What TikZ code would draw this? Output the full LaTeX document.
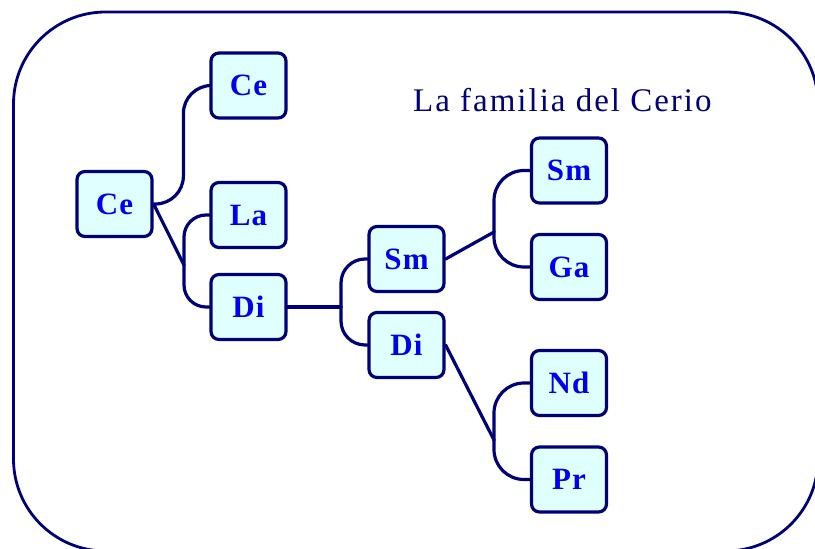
\documentclass[tikz,border=0pt]{standalone}
\usepackage{fontspec}
\setmainfont{Liberation Serif}
\newfontfamily\titlefont[LetterSpace=6]{Liberation Serif}
\newfontfamily\elemfont[LetterSpace=4]{Liberation Serif}
\definecolor{cerioline}{RGB}{0,0,120}
\definecolor{ceriofill}{RGB}{224,255,255}
\definecolor{ceriotext}{RGB}{0,0,240}

\begin{document}
\begin{tikzpicture}[x=1pt, y=-1pt,
    elem/.style={draw=cerioline, fill=ceriofill, line width=3.2pt, rounded corners=8pt,
        minimum width=75pt, minimum height=65pt, inner sep=0pt,
        font=\elemfont\fontsize{31}{33}\selectfont\bfseries, text=ceriotext},
    link/.style={draw=cerioline, line width=3.2pt, line cap=round}]
    \useasboundingbox (0,0) rectangle (815,549);
    \clip (0,0) rectangle (815,549);

    % Outer frame
    \draw[cerioline, line width=2.8pt, rounded corners=92pt] (13.5,12) rectangle (818,551);

    % Title
    \node[anchor=base west, inner sep=0pt, text=cerioline,
        font=\titlefont\fontsize{33}{35}\selectfont] (title) at (413,111) {La familia del Cerio};

    % Elements
    \foreach \name/\x/\y/\sym in {ce1/114.5/204/Ce, ce2/248.5/85.5/Ce, la/248.5/215/La,
        di1/248.5/307/Di, sm2/406.5/259/Sm, di2/406.5/345/Di, sm3/569/170.5/Sm,
        ga/569/267/Ga, nd/569/383/Nd, pr/569/479.5/Pr} {
        \node[elem] (\name) at (\x,\y) {\sym};
    }

    % Branch points
    \coordinate (j1) at (184,265);
    \coordinate (j2) at (341,307);
    \coordinate (j3) at (494,232);
    \coordinate (j4) at (494,440);

    % Connectors
    \draw[link, rounded corners=28pt] (ce1.east) -| ([xshift=-26pt]ce2.west) -- (ce2.west);
    \draw[link] (ce1.east) -- (j1);
    \draw[link, rounded corners=22pt] (j1) |- (la.west);
    \draw[link, rounded corners=22pt] (j1) |- (di1.west);

    \draw[link] (di1.east) -- (j2);
    \draw[link, rounded corners=24pt] (j2) |- (sm2.west);
    \draw[link, rounded corners=24pt] (j2) |- (di2.west);

    \draw[link] (sm2.east) -- (j3);
    \draw[link, rounded corners=30pt] (j3) |- (sm3.west);
    \draw[link, rounded corners=30pt] (j3) |- (ga.west);

    \draw[link] (di2.east) -- (j4);
    \draw[link, rounded corners=30pt] (j4) |- (nd.west);
    \draw[link, rounded corners=30pt] (j4) |- (pr.west);
\end{tikzpicture}
\end{document}
